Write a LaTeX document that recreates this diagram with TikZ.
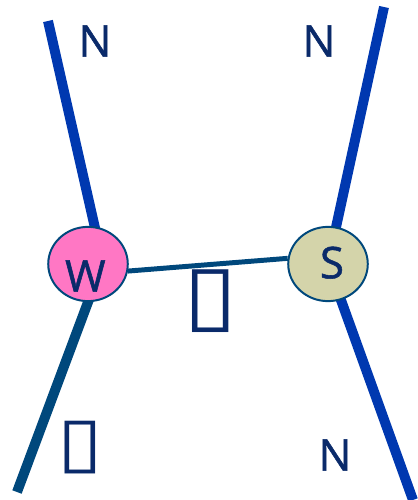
\documentclass[tikz,border=0pt]{standalone}
\usepackage{fontspec}
\setmainfont{Open Sans}
\newfontfamily\lblfont{Open Sans}[FakeBold=1.2]
\newfontfamily\tofufont{DejaVu Sans}
\usetikzlibrary{positioning,backgrounds,shapes.geometric}
\definecolor{legblue}{HTML}{0038B0}
\definecolor{legteal}{HTML}{00487C}
\definecolor{inknavy}{HTML}{0A2A6A}
\definecolor{wpink}{HTML}{FF77C4}
\definecolor{sbeige}{HTML}{D4D4AA}
\tikzset{
  % knoten
  vtx/.style={ellipse,draw=legteal,line width=1.5pt,inner sep=0pt,
              minimum width=60pt,minimum height=56pt},
  lbl/.style={text=inknavy,inner sep=0pt,font=\lblfont\fontsize{33}{33}\selectfont},
  tofu/.style={text=inknavy,inner sep=0pt,font=\tofufont\fontsize{62}{62}\selectfont},
  % linien
  leg/.style={draw=legblue,line width=7.5pt},
  legd/.style={draw=legteal,line width=7.5pt},
  link/.style={draw=legteal,line width=3.75pt},
}
\begin{document}
\begin{tikzpicture}[x=0.0265cm,y=-0.0265cm]
\useasboundingbox (0,0) rectangle (418,500);
  \node[vtx,fill=wpink,label={[lbl,yshift=-9pt,xshift=-2pt]center:W}] (W) at (88,264) {};
  \node[vtx,fill=sbeige,label={[lbl,xshift=3pt,yshift=1pt]center:S}] (S) at (328,264) {};
  \coordinate (wtop) at (48,21);
  \coordinate (wbot) at (17,492);
  \coordinate (stop) at (384,7);
  \coordinate (sbot) at (413,500);
  \node[lbl] (n1) at (95,41) {N};
  \node[lbl] (n2) at (319,41) {N};
  \node[lbl] (n3) at (335,455) {N};
  \node[tofu] (t1) at (211,301) {\scalebox{1.2}[1]{▯}};
  \node[tofu,scale=0.84] (t2) at (80,448) {\scalebox{1.2}[1]{▯}};
  \begin{scope}[on background layer]
    \draw[leg,shorten >=-4pt] (wtop) -- (W.80);
    \draw[legd,shorten <=-4pt] (W.south) -- (wbot);
    \draw[leg,shorten >=-4pt] (stop) -- (S);
    \draw[leg,shorten <=-4pt] (S) -- (sbot);
    \draw[link] (W.-10) -- (S.172);
  \end{scope}
\end{tikzpicture}
\end{document}
